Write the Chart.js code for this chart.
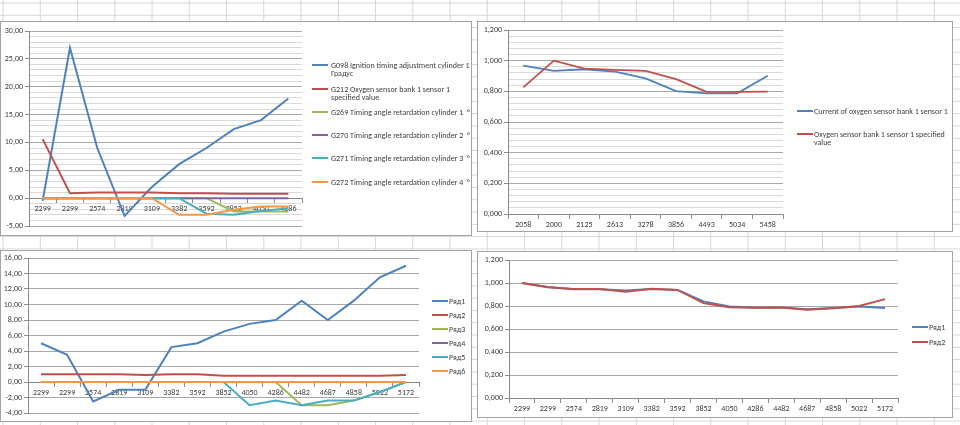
<!DOCTYPE html>
<html>
<head>
<meta charset="utf-8">
<script src="https://cdn.jsdelivr.net/npm/chart.js@4.4.1/dist/chart.umd.min.js"></script>
<style>
  body {
    margin: 0;
    width: 960px;
    height: 425px;
    overflow: hidden;
    position: relative;
    background-color: #fff;
    background-image: linear-gradient(to right, #d4d6d8 1px, transparent 1px),
                      linear-gradient(to bottom, #d4d6d8 1px, transparent 1px);
    background-size: 37.25px 12.3px;
    background-position: 39.8px 2.5px;
    font-family: Carlito, 'Liberation Sans Narrow', 'Liberation Sans', sans-serif;
  }
  .box { position: absolute; background: #fff; border: 1px solid #a3a3a3; box-sizing: border-box; }
  .box canvas { position: absolute; left: 0; top: 0; }
  .lg-line { position: absolute; height: 2px; width: 16px; }
  .lg-text { position: absolute; font-size: 8px; line-height: 8.5px; color: #404040; white-space: pre; }
</style>
</head>
<body>
<div class="box" style="left:0px;top:21px;width:472px;height:215px"><canvas id="c1" width="470" height="213"></canvas></div>
<div class="box" style="left:477px;top:21px;width:476px;height:211px"><canvas id="c2" width="474" height="209"></canvas></div>
<div class="box" style="left:0px;top:250px;width:472px;height:172px"><canvas id="c3" width="470" height="170"></canvas></div>
<div class="box" style="left:477px;top:251px;width:476px;height:167px"><canvas id="c4" width="474" height="165"></canvas></div>
<script>
// ---- chart 1 (top left) ----
const rpmA = ['2299', '2299', '2574', '2819', '3109', '3382', '3592', '3852', '4050', '4286'];
const g098 = [-0.5, 27, 9, -3.2, 2, 6.1, 9, 12.4, 14, 17.9];
const g212 = [10.6, 0.9, 1.0, 1.0, 1.0, 0.9, 0.9, 0.8, 0.8, 0.8];
const g269 = [0, 0, 0, 0, 0, 0, 0, -2.4, -2.4, -2.4];
const g270 = [0, 0, 0, 0, 0, 0, 0, 0, 0, 0];
const g271 = [0, 0, 0, 0, 0, 0, -2.8, -3, -2.3, -1.8];
const g272 = [0, 0, 0, 0, 0, -3, -3, -2.1, -1.5, -1.5];
const namesA = [
  'G098 Ignition timing adjustment cylinder 1\nГрадус',
  'G212 Oxygen sensor bank 1 sensor 1\nspecified value',
  'G269 Timing angle retardation cylinder 1  °',
  'G270 Timing angle retardation cylinder 2  °',
  'G271 Timing angle retardation cylinder 3  °',
  'G272 Timing angle retardation cylinder 4  °'
];

// ---- chart 2 (top right) ----
const rpmB = ['2058', '2000', '2125', '2613', '3278', '3856', '4493', '5034', '5458'];
const o2Current = [0.967, 0.933, 0.944, 0.928, 0.885, 0.802, 0.787, 0.787, 0.902];
const o2Spec = [0.826, 1.0, 0.948, 0.94, 0.933, 0.88, 0.796, 0.796, 0.798];
const namesB = ['Current of oxygen sensor bank 1 sensor 1', 'Oxygen sensor bank 1 sensor 1 specified\nvalue'];

// ---- chart 3 (bottom left) ----
const rpmC = ['2299', '2299', '2574', '2819', '3109', '3382', '3592', '3852', '4050', '4286', '4482', '4687', '4858', '5022', '5172'];
const row1 = [5, 3.5, -2.5, -1, -1, 4.5, 5, 6.5, 7.5, 8, 10.5, 8, 10.5, 13.5, 15];
const row2 = [1, 1, 1, 1, 0.9, 1, 1, 0.8, 0.8, 0.8, 0.8, 0.8, 0.8, 0.8, 0.9];
const row3 = [0, 0, 0, 0, 0, 0, 0, 0, 0, 0, -3, -3, -2.4, -1.3, 0];
const row4 = [0, 0, 0, 0, 0, 0, 0, 0, 0, 0, 0, 0, 0, 0, 0];
const row5 = [0, 0, 0, 0, 0, 0, 0, 0, -3, -2.4, -3, -2.4, -2.4, -1.3, 0];
const row6 = [0, 0, 0, 0, 0, 0, 0, 0, 0, 0, 0, 0, 0, 0, 0];

// ---- chart 4 (bottom right) ----
const rowD1 = [1.0, 0.965, 0.945, 0.945, 0.935, 0.948, 0.94, 0.84, 0.795, 0.786, 0.786, 0.772, 0.783, 0.795, 0.783];
const rowD2 = [1.0, 0.963, 0.948, 0.948, 0.925, 0.95, 0.94, 0.825, 0.79, 0.785, 0.788, 0.768, 0.78, 0.8, 0.86];

const namesRows = ['Ряд1', 'Ряд2', 'Ряд3', 'Ряд4', 'Ряд5', 'Ряд6'];
const colors = ['#4F81BD', '#C0504D', '#9BBB59', '#8064A2', '#4BACC6', '#F79646'];

const FONT = { family: "Carlito, 'Liberation Sans Narrow', 'Liberation Sans', sans-serif", size: 8 };

function makeSets(series, names, width) {
  return series.map((d, i) => ({
    label: names[i],
    data: d,
    borderColor: colors[i],
    backgroundColor: colors[i],
    borderWidth: width,
    pointRadius: 0,
    tension: 0,
    order: -i
  }));
}

function near(v, step) {
  return Math.abs(v / step - Math.round(v / step)) < 1e-6;
}

function makeChart(id, labels, sets, o) {
  return new Chart(document.getElementById(id), {
    type: 'line',
    data: { labels: labels, datasets: sets },
    options: {
      responsive: false,
      animation: false,
      devicePixelRatio: 1,
      layout: { padding: o.padding },
      plugins: { legend: { display: false }, tooltip: { enabled: false } },
      scales: {
        x: {
          position: { y: 0 },
          offset: true,
          grid: { offset: true, drawOnChartArea: false, drawTicks: true, tickLength: 4, color: '#8a8a8a' },
          border: { display: true, color: '#8a8a8a', width: 1 },
          ticks: { font: FONT, color: '#404040', padding: 2, maxRotation: 0, autoSkip: false }
        },
        y: {
          min: o.min,
          max: o.max,
          afterFit: s => { s.width = o.yWidth; },
          grid: {
            color: c => near(c.tick.value, o.major) ? '#a8a8a8' : '#dadada',
            tickColor: c => near(c.tick.value, o.major) ? '#8a8a8a' : 'rgba(0,0,0,0)',
            tickLength: 4
          },
          border: { display: true, color: '#8a8a8a', width: 1 },
          ticks: {
            stepSize: o.step,
            autoSkip: false,
            font: FONT,
            color: '#404040',
            padding: 2,
            callback: v => near(v, o.major) ? v.toFixed(o.dec).replace('.', ',') : ''
          }
        }
      }
    }
  });
}

function makeLegend(chart, x, textX, rows) {
  chart.data.datasets.forEach((ds, i) => {
    const ln = document.createElement('div');
    ln.className = 'lg-line';
    ln.style.left = x + 'px';
    ln.style.top = (rows[i] - 1) + 'px';
    ln.style.background = ds.borderColor;
    document.body.appendChild(ln);
    const tx = document.createElement('div');
    tx.className = 'lg-text';
    tx.style.left = textX + 'px';
    tx.style.top = (rows[i] - 4.5) + 'px';
    tx.textContent = ds.label;
    document.body.appendChild(tx);
  });
}

const chart1 = makeChart('c1', rpmA, makeSets([g098, g212, g269, g270, g271, g272], namesA, 2),
  { padding: { left: 0, top: 9, right: 169, bottom: 9 }, yWidth: 28, min: -5, max: 30, step: 1, major: 5, dec: 2 });
const chart2 = makeChart('c2', rpmB, makeSets([o2Current, o2Spec], namesB, 1.8),
  { padding: { left: 0, top: 8, right: 169, bottom: 17 }, yWidth: 30, min: 0, max: 1.2, step: 0.04, major: 0.2, dec: 3 });
const chart3 = makeChart('c3', rpmC, makeSets([row1, row2, row3, row4, row5, row6], namesRows, 2),
  { padding: { left: 0, top: 7, right: 52, bottom: 8 }, yWidth: 27, min: -4, max: 16, step: 2, major: 2, dec: 2 });
const chart4 = makeChart('c4', rpmC, makeSets([rowD1, rowD2], namesRows, 2),
  { padding: { left: 0, top: 8, right: 54, bottom: 19 }, yWidth: 31, min: 0, max: 1.2, step: 0.2, major: 0.2, dec: 3 });

makeLegend(chart1, 312, 331, [65, 89, 112, 135, 158, 182]);
makeLegend(chart2, 797, 814, [111, 134]);
makeLegend(chart3, 432, 449, [301, 315, 329, 343, 357, 371]);
makeLegend(chart4, 912, 929, [327, 342]);
</script>
</body>
</html>
